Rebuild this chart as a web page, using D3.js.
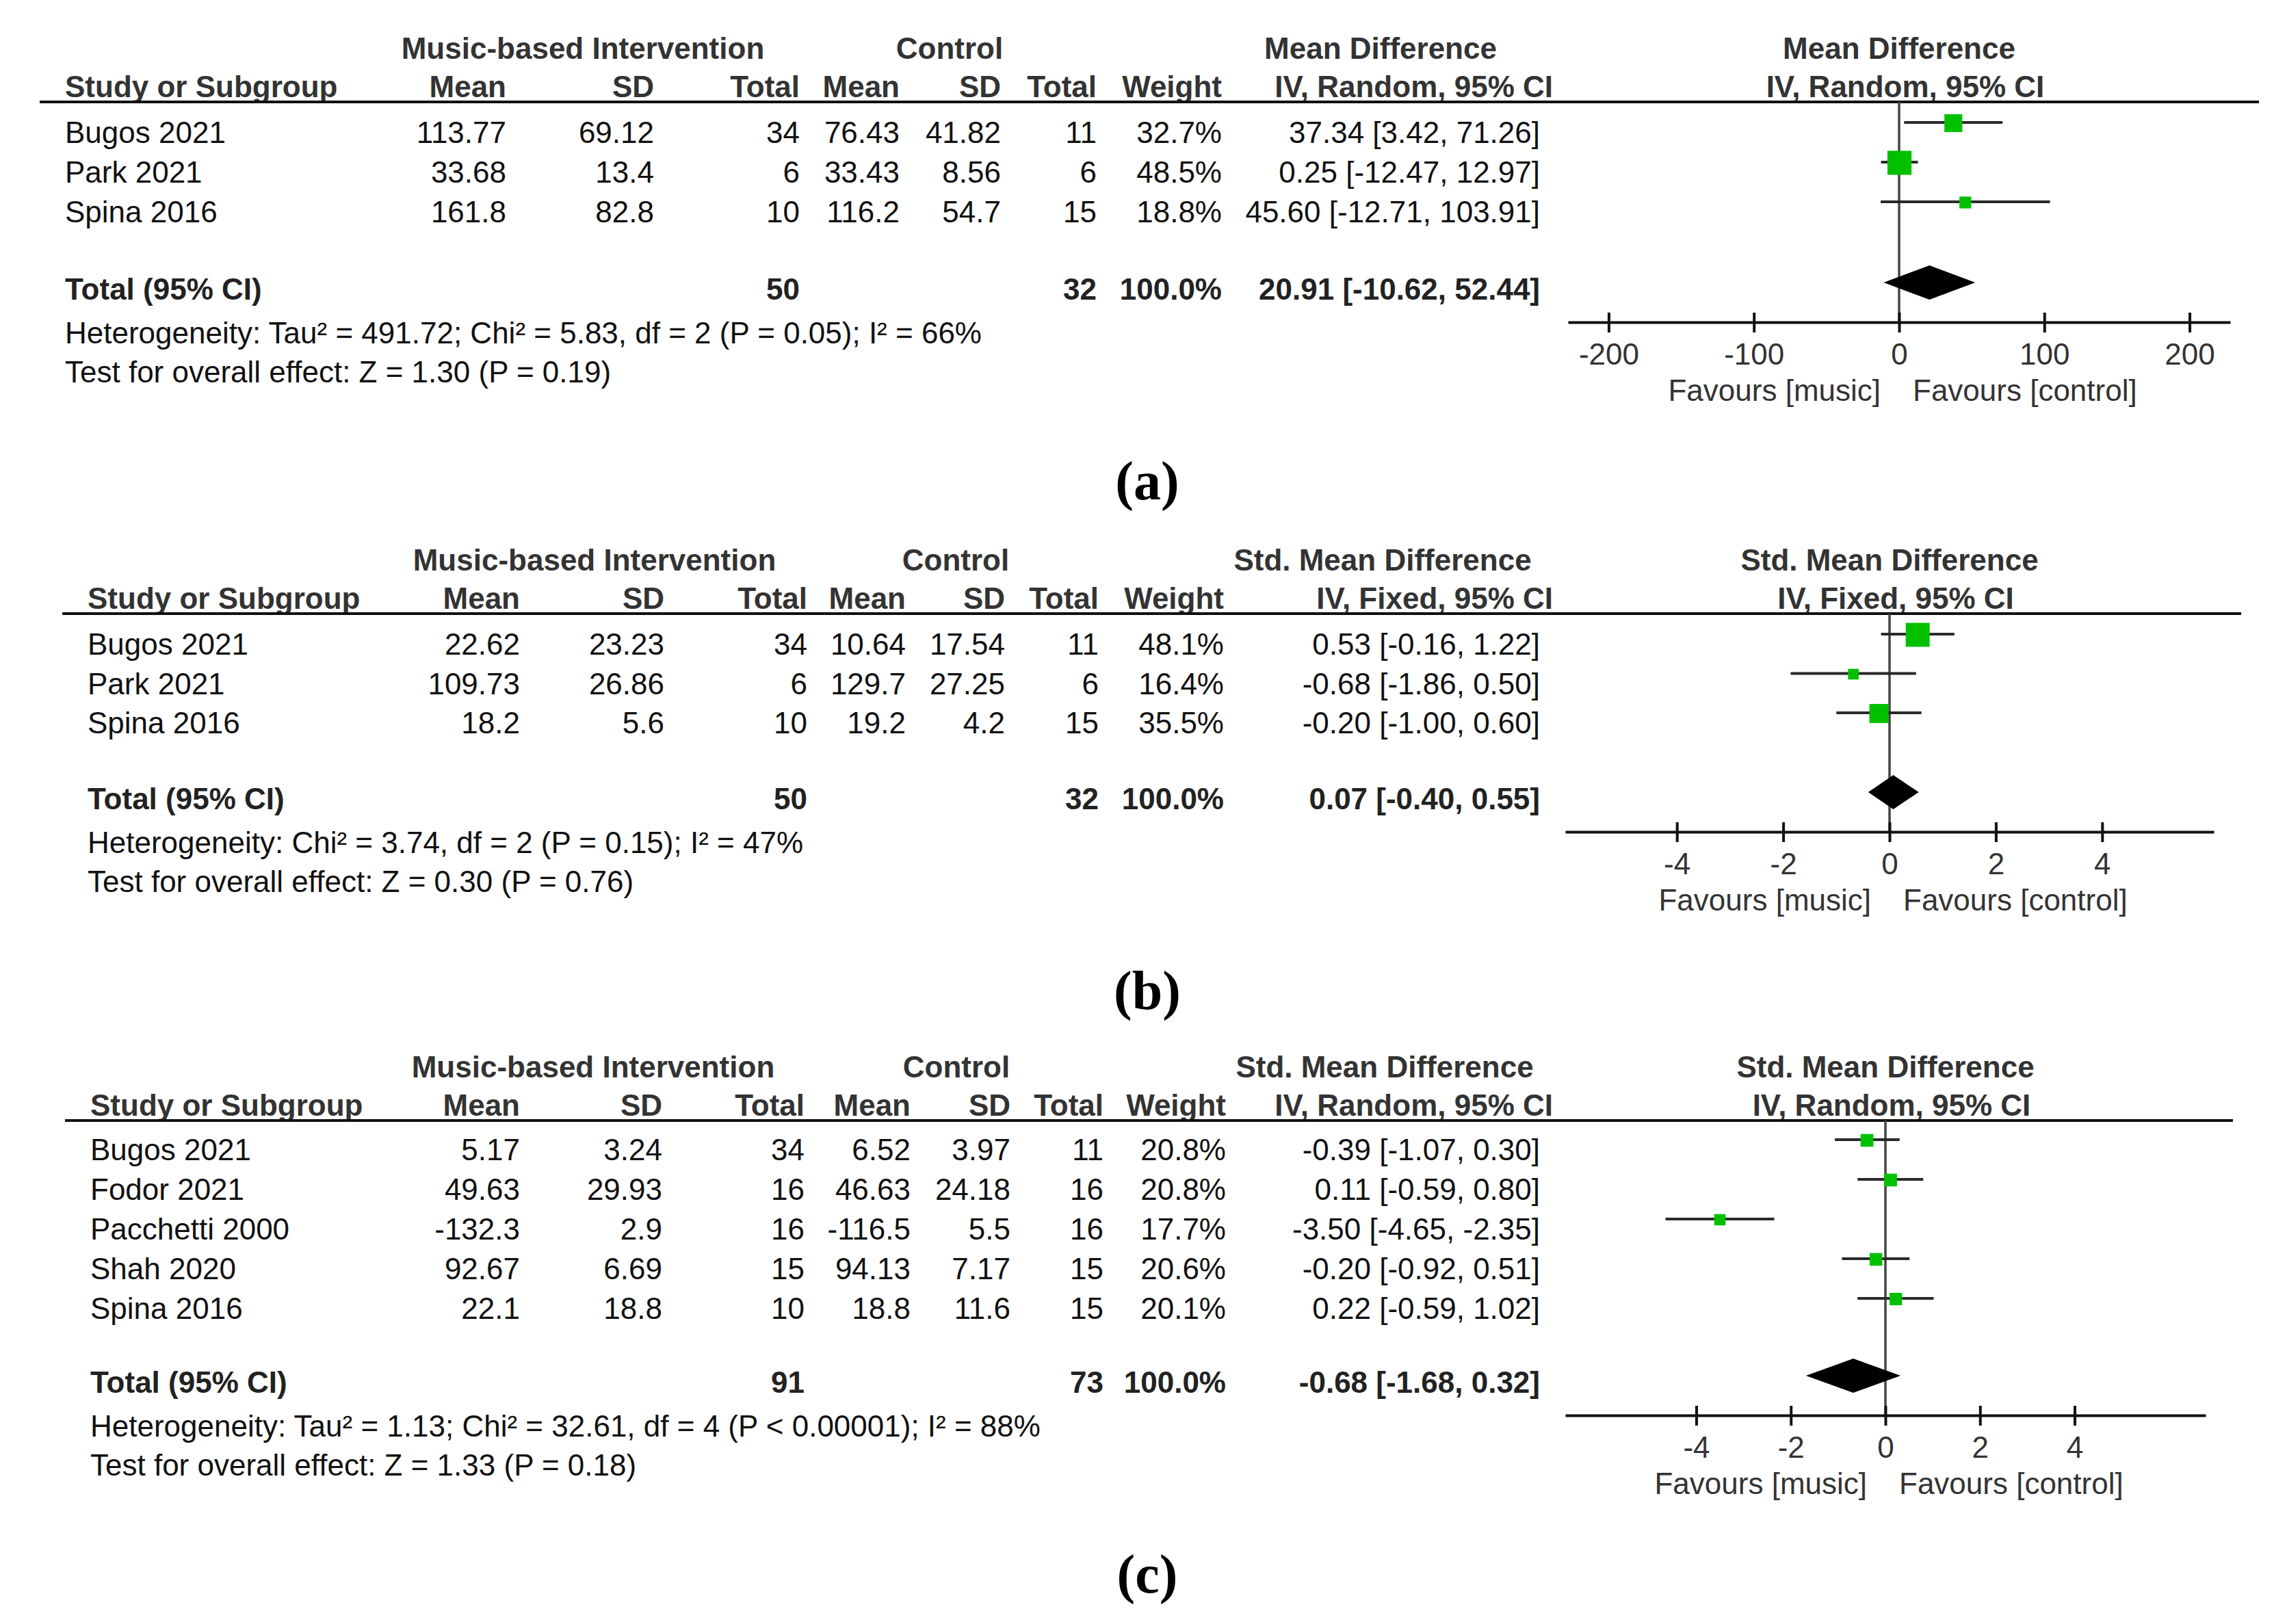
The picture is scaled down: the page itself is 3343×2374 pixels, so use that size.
<!DOCTYPE html>
<html>
<head>
<meta charset="utf-8">
<script src="https://cdn.jsdelivr.net/npm/d3@7"></script>
<style>
  body { margin: 0; background: #fff; }
  text { font-family: "Liberation Sans", Arial, sans-serif; }
</style>
</head>
<body>
<div id="chart"></div>
<script>
// ---- panel (a)
const studiesA = ["Bugos 2021", "Park 2021", "Spina 2016"];
const musicMeanA = [113.77, 33.68, 161.8];
const musicSdA = [69.12, 13.4, 82.8];
const musicNA = [34, 6, 10];
const ctrlMeanA = [76.43, 33.43, 116.2];
const ctrlSdA = [41.82, 8.56, 54.7];
const ctrlNA = [11, 6, 15];
const weightA = [32.7, 48.5, 18.8];
const estA = [37.34, 0.25, 45.6];
const loA = [3.42, -12.47, -12.71];
const hiA = [71.26, 12.97, 103.91];
const totalNA = [50, 32];
const totalCIA = [20.91, -10.62, 52.44];
const ticksA = [-200, -100, 0, 100, 200];
const hetA = "Heterogeneity: Tau² = 491.72; Chi² = 5.83, df = 2 (P = 0.05); I² = 66%";
const testA = "Test for overall effect: Z = 1.30 (P = 0.19)";

// ---- panel (b)
const studiesB = ["Bugos 2021", "Park 2021", "Spina 2016"];
const musicMeanB = [22.62, 109.73, 18.2];
const musicSdB = [23.23, 26.86, 5.6];
const musicNB = [34, 6, 10];
const ctrlMeanB = [10.64, 129.7, 19.2];
const ctrlSdB = [17.54, 27.25, 4.2];
const ctrlNB = [11, 6, 15];
const weightB = [48.1, 16.4, 35.5];
const estB = [0.53, -0.68, -0.2];
const loB = [-0.16, -1.86, -1.0];
const hiB = [1.22, 0.5, 0.6];
const totalNB = [50, 32];
const totalCIB = [0.07, -0.4, 0.55];
const ticksB = [-4, -2, 0, 2, 4];
const hetB = "Heterogeneity: Chi² = 3.74, df = 2 (P = 0.15); I² = 47%";
const testB = "Test for overall effect: Z = 0.30 (P = 0.76)";

// ---- panel (c)
const studiesC = ["Bugos 2021", "Fodor 2021", "Pacchetti 2000", "Shah 2020", "Spina 2016"];
const musicMeanC = [5.17, 49.63, -132.3, 92.67, 22.1];
const musicSdC = [3.24, 29.93, 2.9, 6.69, 18.8];
const musicNC = [34, 16, 16, 15, 10];
const ctrlMeanC = [6.52, 46.63, -116.5, 94.13, 18.8];
const ctrlSdC = [3.97, 24.18, 5.5, 7.17, 11.6];
const ctrlNC = [11, 16, 16, 15, 15];
const weightC = [20.8, 20.8, 17.7, 20.6, 20.1];
const estC = [-0.39, 0.11, -3.5, -0.2, 0.22];
const loC = [-1.07, -0.59, -4.65, -0.92, -0.59];
const hiC = [0.3, 0.8, -2.35, 0.51, 1.02];
const totalNC = [91, 73];
const totalCIC = [-0.68, -1.68, 0.32];
const ticksC = [-4, -2, 0, 2, 4];
const hetC = "Heterogeneity: Tau² = 1.13; Chi² = 32.61, df = 4 (P < 0.00001); I² = 88%";
const testC = "Test for overall effect: Z = 1.33 (P = 0.18)";

const colHeads = ["Mean", "SD", "Total", "Mean", "SD", "Total", "Weight"];

function rows(st, mm, ms, mn, cm, cs, cn, w, e, lo, hi) {
  return st.map((s, i) => ({ study: s, cells: [mm[i], ms[i], mn[i], cm[i], cs[i], cn[i]],
    weight: w[i], est: e[i], lo: lo[i], hi: hi[i] }));
}

const panels = [
  { label: "(a)", effect: "Mean Difference", method: "IV, Random, 95% CI",
    data: rows(studiesA, musicMeanA, musicSdA, musicNA, ctrlMeanA, ctrlSdA, ctrlNA, weightA, estA, loA, hiA),
    totalN: totalNA, totalCI: totalCIA, ticks: ticksA, het: hetA, test: testA,
    line: 149, rowStart: 209, rowStep: 58, total: 438, studyX: 95,
    cols: [740, 956, 1169, 1315, 1463, 1603, 1786, 2251], groups: [852, 1388, 2018],
    domain: [-228, 228], range: [2292, 3260], lineEnd: 3302 },
  { label: "(b)", effect: "Std. Mean Difference", method: "IV, Fixed, 95% CI",
    data: rows(studiesB, musicMeanB, musicSdB, musicNB, ctrlMeanB, ctrlSdB, ctrlNB, weightB, estB, loB, hiB),
    totalN: totalNB, totalCI: totalCIB, ticks: ticksB, het: hetB, test: testB,
    line: 897, rowStart: 957, rowStep: 57.5, total: 1183, studyX: 128,
    cols: [760, 971, 1180, 1324, 1469, 1606, 1789, 2251], groups: [869, 1397, 2021],
    domain: [-6.1, 6.1], range: [2288, 3236], lineEnd: 3276 },
  { label: "(c)", effect: "Std. Mean Difference", method: "IV, Random, 95% CI",
    data: rows(studiesC, musicMeanC, musicSdC, musicNC, ctrlMeanC, ctrlSdC, ctrlNC, weightC, estC, loC, hiC),
    totalN: totalNC, totalCI: totalCIC, ticks: ticksC, het: hetC, test: testC,
    line: 1638, rowStart: 1696, rowStep: 58, total: 2036, studyX: 132,
    cols: [760, 968, 1176, 1331, 1477, 1613, 1792, 2251], groups: [867, 1398, 2024],
    domain: [-6.77, 6.77], range: [2288, 3224], lineEnd: 3264 }
];

const W = 3343, H = 2374, FS = 44;
const svg = d3.select("#chart").append("svg")
  .attr("width", W).attr("height", H)
  .style("background", "#fff");

const boxSize = d3.scalePow().exponent(0.75).domain([0, 50]).range([0, 36]);
const ciText = (e, l, h) => `${e.toFixed(2)} [${l.toFixed(2)}, ${h.toFixed(2)}]`;

panels.forEach(p => {
  const g = svg.append("g");
  const n = p.data.length;
  const y = d3.scaleLinear().domain([0, n - 1]).range([p.rowStart, p.rowStart + (n - 1) * p.rowStep]);
  const x = d3.scaleLinear().domain(p.domain).range(p.range);
  const axisY = p.total + 33;
  const hetY = p.total + 64;

  // headers
  const head = (t, xx, yy, anchor) => g.append("text").attr("x", xx).attr("y", yy)
    .attr("text-anchor", anchor).attr("font-size", FS).attr("font-weight", "bold")
    .attr("fill", "#333").text(t);
  head("Music-based Intervention", p.groups[0], p.line - 63, "middle");
  head("Control", p.groups[1], p.line - 63, "middle");
  head(p.effect, p.groups[2], p.line - 63, "middle");
  head(p.effect, x(0), p.line - 63, "middle");
  head("Study or Subgroup", p.studyX, p.line - 7, "start");
  colHeads.forEach((h, i) => head(h, p.cols[i], p.line - 7, "end"));
  head(p.method, p.cols[7] + 19, p.line - 7, "end");
  head(p.method, x(0) + 9, p.line - 7, "middle");

  g.append("line")
    .attr("x1", p.studyX - 37).attr("x2", p.lineEnd)
    .attr("y1", p.line).attr("y2", p.line)
    .attr("stroke", "#111").attr("stroke-width", 4);

  // study rows
  const r = g.selectAll(".row").data(p.data).join("g").attr("class", "row");
  r.append("text").attr("x", p.studyX).attr("y", (d, i) => y(i))
    .attr("font-size", FS).attr("fill", "#111").text(d => d.study);
  r.each(function (d, i) {
    const row = d3.select(this);
    const vals = d.cells.map(String).concat([d.weight.toFixed(1) + "%", ciText(d.est, d.lo, d.hi)]);
    vals.forEach((v, k) => row.append("text").attr("x", p.cols[k]).attr("y", y(i))
      .attr("text-anchor", "end").attr("font-size", FS).attr("fill", "#111").text(v));
  });

  // total row
  const tot = (t, xx, anchor) => g.append("text").attr("x", xx).attr("y", p.total)
    .attr("text-anchor", anchor).attr("font-size", FS).attr("font-weight", "bold")
    .attr("fill", "#222").text(t);
  tot("Total (95% CI)", p.studyX, "start");
  tot(p.totalN[0], p.cols[2], "end");
  tot(p.totalN[1], p.cols[5], "end");
  tot("100.0%", p.cols[6], "end");
  tot(ciText(p.totalCI[0], p.totalCI[1], p.totalCI[2]), p.cols[7], "end");

  g.append("text").attr("x", p.studyX).attr("y", hetY).attr("font-size", FS)
    .attr("fill", "#111").text(p.het);
  g.append("text").attr("x", p.studyX).attr("y", hetY + 57).attr("font-size", FS)
    .attr("fill", "#111").text(p.test);

  // forest plot
  g.append("line")
    .attr("x1", x(0)).attr("x2", x(0))
    .attr("y1", p.line).attr("y2", axisY)
    .attr("stroke", "#444").attr("stroke-width", 3.5);

  g.selectAll(".ci").data(p.data).join("line").attr("class", "ci")
    .attr("x1", d => x(d.lo)).attr("x2", d => x(d.hi))
    .attr("y1", (d, i) => y(i) - 30).attr("y2", (d, i) => y(i) - 30)
    .attr("stroke", "#2a2a2a").attr("stroke-width", 4);

  g.selectAll(".box").data(p.data).join("rect").attr("class", "box")
    .attr("x", d => x(d.est) - boxSize(d.weight) / 2)
    .attr("y", (d, i) => y(i) - 29 - boxSize(d.weight) / 2)
    .attr("width", d => boxSize(d.weight))
    .attr("height", d => boxSize(d.weight))
    .attr("fill", "#00c000");

  const dy = p.total - 25;
  const [te, tl, th] = p.totalCI;
  g.append("polygon")
    .attr("points", [[x(tl), dy], [x(te), dy - 25], [x(th), dy], [x(te), dy + 25]].join(" "))
    .attr("fill", "#000");

  const ax = g.append("g").attr("transform", `translate(0,${axisY})`)
    .call(d3.axisBottom(x).tickValues(p.ticks).tickSizeOuter(0).tickFormat(d3.format("d")));
  ax.select(".domain").attr("stroke", "#111").attr("stroke-width", 4);
  ax.selectAll(".tick line").attr("y1", -14).attr("y2", 15)
    .attr("stroke", "#111").attr("stroke-width", 4);
  ax.selectAll(".tick text").attr("y", 62).attr("dy", 0)
    .attr("font-size", FS).attr("fill", "#333")
    .attr("font-family", "Liberation Sans, Arial, sans-serif")
    .text(d => d < 0 ? "-" + Math.abs(d) : d);

  g.append("text").attr("x", x(0) - 27).attr("y", axisY + 115)
    .attr("text-anchor", "end").attr("font-size", FS).attr("fill", "#333")
    .text("Favours [music]");
  g.append("text").attr("x", x(0) + 20).attr("y", axisY + 115)
    .attr("text-anchor", "start").attr("font-size", FS).attr("fill", "#333")
    .text("Favours [control]");

  g.append("text").attr("x", 1677).attr("y", axisY + 259)
    .attr("text-anchor", "middle").attr("font-size", 80).attr("font-weight", "bold")
    .style("font-family", "'Liberation Serif', 'Times New Roman', serif")
    .attr("fill", "#000").text(p.label);
});
</script>
</body>
</html>
